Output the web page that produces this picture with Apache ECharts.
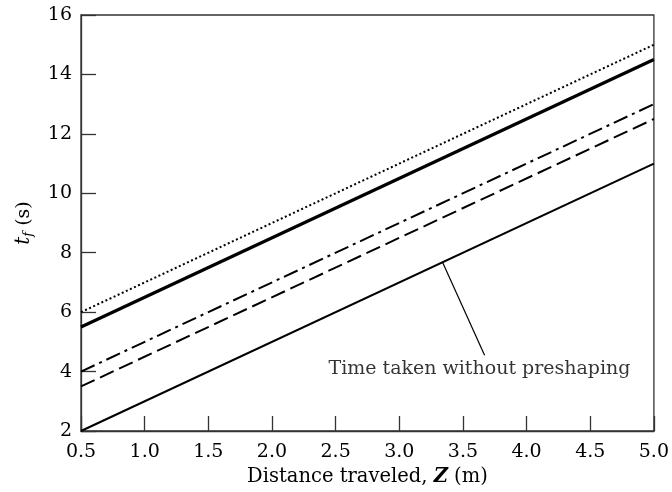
<!DOCTYPE html>
<html>
<head>
<meta charset="utf-8">
<script src="https://cdn.jsdelivr.net/npm/echarts@6/dist/echarts.min.js"></script>
<style>html,body{margin:0;padding:0;background:#fff}#c{width:672px;height:492px}</style>
</head>
<body>
<div id="c"></div>
<script>
const distance = [0.5, 5.0];
const dottedSeries = [6.0, 15.0];
const thickSeries = [5.5, 14.5];
const dashDotSeries = [4.0, 13.0];
const dashedSeries = [3.5, 12.5];
const withoutPreshaping = [2.0, 11.0];
const xTicks = ['0.5','1.0','1.5','2.0','2.5','3.0','3.5','4.0','4.5','5.0'];
const yTicks = [2, 4, 6, 8, 10, 12, 14, 16];
const annotationText = 'Time taken without preshaping';
const annotationFrom = [3.34, 7.68];
const annotationTo = [3.67, 4.55];
const annotationTextAt = [3.63, 4.08];

const font = 'DejaVu Serif';
function pairs(ys){ return distance.map((x,i)=>[x, ys[i]]); }
function lineSeries(ys, width, type){
  return {type:'line', data:pairs(ys), symbol:'none', silent:true,
    lineStyle:{color:'#000', width:width, type:type}};
}
const chart = echarts.init(document.getElementById('c'));
const series = [
  lineSeries(dottedSeries, 2, [2,2.5]),
  lineSeries(thickSeries, 3.2, 'solid'),
  lineSeries(dashDotSeries, 2, [15,5,3,5]),
  lineSeries(dashedSeries, 2, [15,6]),
  Object.assign(lineSeries(withoutPreshaping, 2, 'solid'), {
    markLine:{silent:true, symbol:'none', label:{show:false},
      lineStyle:{color:'#000', width:1.2, type:'solid'},
      data:[[{coord:annotationFrom},{coord:annotationTo}]]}
  }),
  {type:'scatter', data:[annotationTextAt], symbolSize:0, silent:true,
    label:{show:true, position:'inside', formatter:annotationText,
      fontFamily:font, fontSize:19, color:'#000'}}
];
chart.setOption({
  animation:false,
  grid:{left:81, right:17, top:15, bottom:58, show:true, borderColor:'#333', borderWidth:1.3, backgroundColor:'transparent'},
  xAxis:{type:'value', min:0.5, max:5.0, interval:0.5,
    name:'Distance traveled, {zi|Z} (m)', nameLocation:'middle', nameGap:36,
    nameTextStyle:{fontFamily:font, fontSize:19.5, color:'#000',
      rich:{zi:{fontFamily:font, fontSize:19.5, fontStyle:'italic', fontWeight:'bold', color:'#000'}}},
    axisLine:{lineStyle:{color:'#333', width:1.3}},
    axisTick:{inside:true, length:15, lineStyle:{color:'#333', width:1.3}},
    axisLabel:{fontFamily:font, fontSize:19, color:'#000', margin:12,
      formatter:v=>v.toFixed(1)},
    splitLine:{show:false}},
  yAxis:{type:'value', min:2, max:16, interval:2,
    name:'{t|t}{f|f} (s)', nameLocation:'middle', nameGap:46,
    nameTextStyle:{fontFamily:font, fontSize:19, color:'#000',
      rich:{t:{fontFamily:font, fontSize:20, fontStyle:'italic', color:'#000'},
            f:{fontFamily:font, fontSize:13, fontStyle:'italic', color:'#000', verticalAlign:'bottom', padding:[9,0,0,0]}}},
    axisLine:{lineStyle:{color:'#333', width:1.3}},
    axisTick:{inside:true, length:15, lineStyle:{color:'#333', width:1.3}},
    axisLabel:{fontFamily:font, fontSize:19, color:'#000', margin:9},
    splitLine:{show:false}},
  series:series
});
</script>
</body>
</html>
